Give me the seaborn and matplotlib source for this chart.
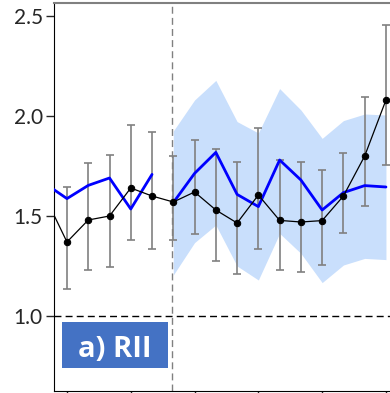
import numpy as np
import pandas as pd
import seaborn as sns
import matplotlib.pyplot as plt
from matplotlib.patches import Rectangle

# observed RII (black points) with error bars, index -1 sits just off the left edge
obs_idx = list(range(-1, 16))
obs_mean = [1.59, 1.37, 1.48, 1.50, 1.64, 1.60, 1.57, 1.62, 1.53, 1.465, 1.605,
            1.478, 1.47, 1.477, 1.60, 1.80, 2.08]
obs_hi = [1.80, 1.645, 1.767, 1.805, 1.955, 1.918, 1.80, 1.878, 1.833, 1.772, 1.942,
          1.78, 1.77, 1.73, 1.817, 2.095, 2.457]
obs_lo = [1.38, 1.133, 1.23, 1.247, 1.38, 1.333, 1.38, 1.408, 1.277, 1.21, 1.333,
          1.228, 1.218, 1.253, 1.413, 1.55, 1.755]

# modelled RII (blue line), two segments
fit1_idx = [-1, 0, 1, 2, 3, 4]
fit1_val = [1.66, 1.587, 1.653, 1.69, 1.535, 1.708]
fit2_idx = [5, 6, 7, 8, 9, 10, 11, 12, 13, 14, 15]
fit2_val = [1.567, 1.713, 1.818, 1.608, 1.547, 1.78, 1.68, 1.53, 1.617, 1.652, 1.645]

# prediction band
band_idx = [5, 6, 7, 8, 9, 10, 11, 12, 13, 14, 15]
band_hi = [1.925, 2.08, 2.178, 1.972, 1.915, 2.137, 2.03, 1.888, 1.977, 2.01, 2.005]
band_lo = [1.205, 1.367, 1.455, 1.25, 1.18, 1.413, 1.313, 1.167, 1.255, 1.288, 1.282]

sns.set_style("ticks")
plt.rcParams['font.family'] = ['Lato', 'DejaVu Sans']

fig = plt.figure(figsize=(3.9, 3.93), dpi=100)
ax = fig.add_axes([54 / 390, 2 / 393, 336 / 390, 388 / 393])

ax.fill_between(band_idx, band_lo, band_hi, color="#c9dffc", lw=0, zorder=1)

ax.axhline(1.0, color="black", lw=1, ls=(0, (5, 3)), zorder=2)
ax.axvline(4.95, color="#808080", lw=1, ls=(0, (5, 3)), zorder=2)

obs = pd.DataFrame({"i": obs_idx, "rii": obs_mean})
err = np.array([np.array(obs_mean) - np.array(obs_lo), np.array(obs_hi) - np.array(obs_mean)])
ax.errorbar(obs_idx, obs_mean, yerr=err, fmt="none", ecolor="#808080", elinewidth=1.2,
            capsize=3, capthick=1.2, zorder=3)

sns.lineplot(x=fit1_idx, y=fit1_val, color="#0000ff", lw=2, ax=ax, zorder=4)
sns.lineplot(x=fit2_idx, y=fit2_val, color="#0000ff", lw=2, ax=ax, zorder=4)
sns.lineplot(data=obs, x="i", y="rii", color="black", lw=0.9, marker="o", ms=4.6,
             markeredgecolor="black", ax=ax, zorder=5)

ax.set_xlim(-0.61, 15.19)
ax.set_ylim(0.625, 2.565)
ax.set_xticks([0, 3, 6, 9, 12, 15])
ax.set_xticklabels([])
ax.set_yticks([1.0, 1.5, 2.0, 2.5])
ax.set_yticklabels(["1.0", "1.5", "2.0", "2.5"], fontsize=15)
ax.tick_params(axis="y", length=6, width=1, pad=2)
ax.tick_params(axis="x", length=4, width=1)
ax.set_xlabel("")
ax.set_ylabel("")

ax.spines["right"].set_visible(False)
ax.spines["top"].set_color("#808080")
ax.spines["top"].set_linewidth(1.5)
ax.spines["left"].set_color("black")
ax.spines["bottom"].set_color("black")

ax.add_patch(Rectangle((8 / 336, 23 / 388), 106 / 336, 46 / 388, transform=ax.transAxes,
                       facecolor="#4472c4", edgecolor="none", zorder=6))
ax.text(61 / 336, 34 / 388, "a) RII", transform=ax.transAxes, ha="center", va="baseline",
        color="white", fontsize=21, fontweight="bold", family=["Open Sans", "DejaVu Sans"],
        zorder=7)

fig.savefig("out.png", dpi=100)
